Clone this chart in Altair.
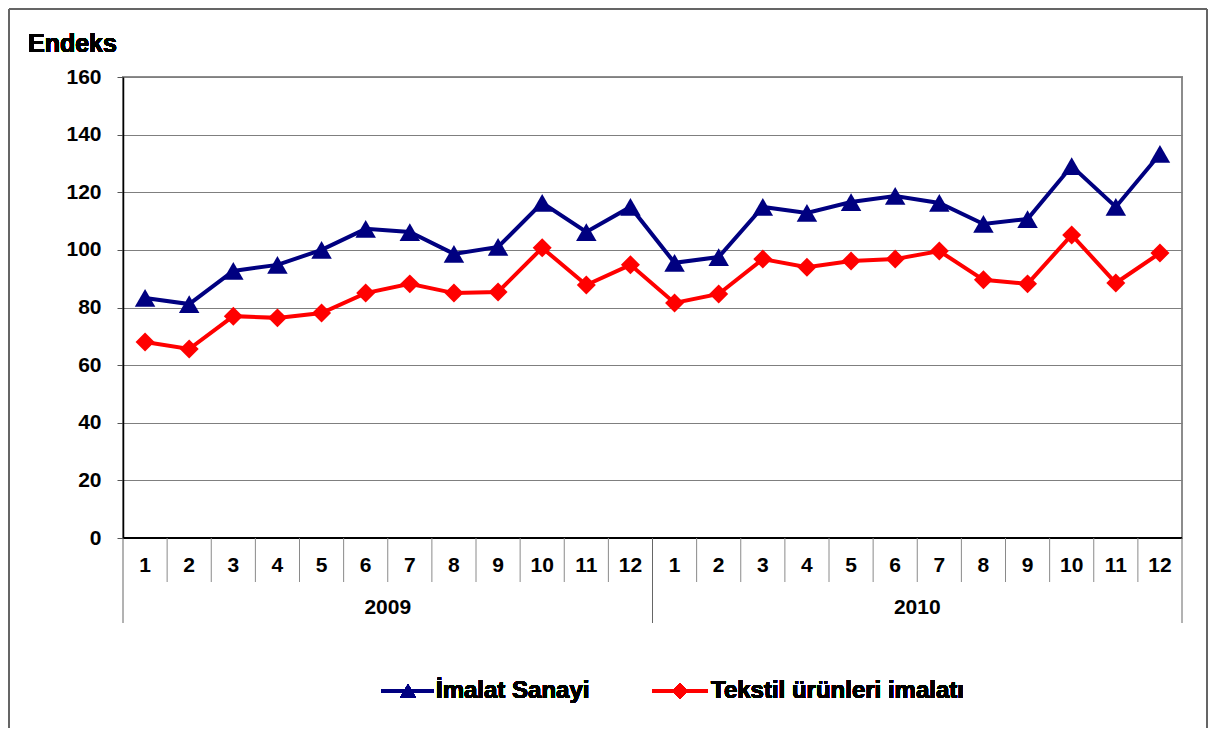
import altair as alt
import pandas as pd

months = [str(m) for m in range(1, 13)] * 2
years = ["2009", "2010"]
imalat = [83.3, 81.2, 92.7, 94.8, 100.0, 107.3, 106.2, 98.6, 101.0, 116.3, 106.2, 114.9,
          95.5, 97.5, 114.9, 112.8, 116.6, 118.7, 116.3, 109.0, 110.7, 129.1, 114.9, 133.3]
tekstil = [68.0, 65.6, 77.0, 76.4, 78.1, 85.0, 88.2, 85.0, 85.4, 100.7, 87.8, 94.8,
           81.6, 84.7, 96.8, 94.0, 96.1, 96.8, 99.6, 89.6, 88.2, 105.2, 88.5, 98.9]
series_names = ["İmalat Sanayi", "Tekstil ürünleri imalatı"]
colors = ["#000080", "#FF0000"]
y_title = "Endeks"

FONT = "Liberation Sans"
W, H = 1059, 461

n = len(months)
rows = []
for i in range(n):
    rows.append({"pos": i + 0.5, "series": series_names[0], "value": imalat[i]})
    rows.append({"pos": i + 0.5, "series": series_names[1], "value": tekstil[i]})
df = pd.DataFrame(rows)

lab = pd.DataFrame({"pos": [i + 0.5 for i in range(n)], "label": months})
ylab = pd.DataFrame({"pos": [6.0, 18.0], "label": years})
msep = pd.DataFrame({"b": list(range(1, n))})
ysep = pd.DataFrame({"b": [0, 12, 24]})

xs = alt.Scale(domain=[0, 24], nice=False, zero=False)
ys = alt.Scale(domain=[0, 160], nice=False)
X = alt.X("pos:Q", scale=xs, axis=None)

base = alt.Chart(df)

line_imalat = base.transform_filter(alt.datum.series == series_names[0]).mark_line(
    color=colors[0], strokeWidth=4).encode(
    x=X,
    y=alt.Y("value:Q", scale=ys,
            axis=alt.Axis(values=list(range(0, 161, 20)), grid=True, gridColor="#7f7f7f",
                          gridWidth=1, domainColor="#000000", domainWidth=1.5,
                          tickColor="#555555", tickSize=6, labelPadding=16,
                          labelFont=FONT, labelFontSize=21, labelFontWeight="bold",
                          labelColor="#000000", title=None)))
pts_imalat = base.transform_filter(alt.datum.series == series_names[0]).mark_point(
    shape="triangle-up", size=420, filled=True, opacity=1, color=colors[0]).encode(
    x=X, y=alt.Y("value:Q", scale=ys))
line_tekstil = base.transform_filter(alt.datum.series == series_names[1]).mark_line(
    color=colors[1], strokeWidth=4).encode(x=X, y=alt.Y("value:Q", scale=ys))
pts_tekstil = base.transform_filter(alt.datum.series == series_names[1]).mark_point(
    shape="diamond", size=360, filled=True, opacity=1, color=colors[1]).encode(
    x=X, y=alt.Y("value:Q", scale=ys))

bottom = alt.Chart(lab).mark_rule(color="#000000", strokeWidth=1.5).encode(
    x=alt.value(0), x2=alt.value(W), y=alt.value(H))

msep_r = alt.Chart(msep).mark_rule(color="#8a8a8a", strokeWidth=1).encode(
    x=alt.X("b:Q", scale=xs, axis=None), y=alt.value(H), y2=alt.value(H + 44))
ysep_r = alt.Chart(ysep).mark_rule(color="#666666", strokeWidth=1).encode(
    x=alt.X("b:Q", scale=xs, axis=None), y=alt.value(H), y2=alt.value(H + 85))

mtext = alt.Chart(lab).mark_text(font=FONT, fontSize=21, fontWeight="bold",
                                 color="#000000", baseline="middle").encode(
    x=alt.X("pos:Q", scale=xs, axis=None), y=alt.value(H + 28), text="label:N")
ytext = alt.Chart(ylab).mark_text(font=FONT, fontSize=21, fontWeight="bold",
                                  color="#000000", baseline="middle").encode(
    x=alt.X("pos:Q", scale=xs, axis=None), y=alt.value(H + 70), text="label:N")

title_t = alt.Chart(lab).mark_text(font=FONT, fontSize=25, fontWeight="bold",
                                   color="#000000", align="left", baseline="alphabetic").encode(
    x=alt.value(-95), y=alt.value(-25), text=alt.value(y_title))

# legend
leg_y = 614
leg1_line = alt.Chart(lab).mark_rule(color=colors[0], strokeWidth=4).encode(
    x=alt.value(258), x2=alt.value(311), y=alt.value(leg_y))
leg1_pt = alt.Chart(lab).mark_point(shape="triangle-up", size=260, filled=True, opacity=1,
                                    color=colors[0]).encode(x=alt.value(285), y=alt.value(leg_y))
leg1_t = alt.Chart(lab).mark_text(font=FONT, fontSize=24, fontWeight="bold", color="#000000",
                                  align="left", baseline="middle").encode(
    x=alt.value(313), y=alt.value(leg_y), text=alt.value(series_names[0]))
leg2_line = alt.Chart(lab).mark_rule(color=colors[1], strokeWidth=4).encode(
    x=alt.value(529), x2=alt.value(585), y=alt.value(leg_y))
leg2_pt = alt.Chart(lab).mark_point(shape="diamond", size=240, filled=True, opacity=1,
                                    color=colors[1]).encode(x=alt.value(557), y=alt.value(leg_y))
leg2_t = alt.Chart(lab).mark_text(font=FONT, fontSize=24, fontWeight="bold", color="#000000",
                                  align="left", baseline="middle").encode(
    x=alt.value(588), y=alt.value(leg_y), text=alt.value(series_names[1]))

# outer frame (bottom edge runs past the picture)
fl = -114
ft = -68
fr = W + 25
fb = H + 200
frame = [
    alt.Chart(lab).mark_rule(color="#666666", strokeWidth=1.5).encode(
        x=alt.value(fl), x2=alt.value(fr), y=alt.value(ft)),
    alt.Chart(lab).mark_rule(color="#666666", strokeWidth=1.5).encode(
        x=alt.value(fl), y=alt.value(ft), y2=alt.value(fb)),
    alt.Chart(lab).mark_rule(color="#666666", strokeWidth=1.5).encode(
        x=alt.value(fr), y=alt.value(ft), y2=alt.value(fb)),
]

chart = alt.layer(
    line_imalat, line_tekstil, pts_imalat, pts_tekstil,
    bottom, msep_r, ysep_r, mtext, ytext, title_t,
    leg1_line, leg1_pt, leg1_t, leg2_line, leg2_pt, leg2_t, *frame
).properties(
    width=W, height=H,
    autosize=alt.AutoSizeParams(type="none"),
    padding={"left": 115, "top": 69, "right": 26, "bottom": 190},
    background="#ffffff",
).configure_view(stroke="#8c8c8c", strokeWidth=2)

chart.save("out.html", embed_options={"renderer": "svg", "actions": False})
